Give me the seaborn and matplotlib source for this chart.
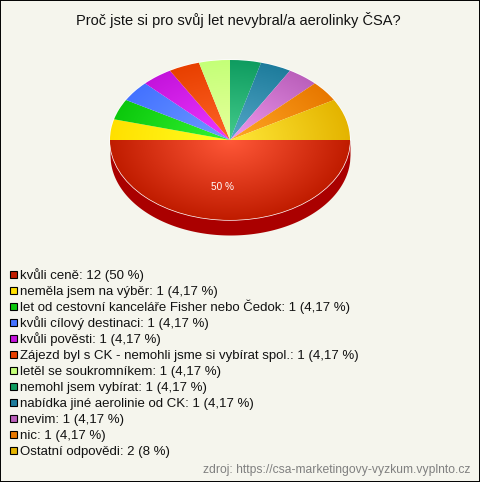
import numpy as np
import matplotlib
matplotlib.use("Agg")
import matplotlib.pyplot as plt
from matplotlib.patches import Rectangle
import seaborn as sns

title = "Proč jste si pro svůj let nevybral/a aerolinky ČSA?"
source = "zdroj: https://csa-marketingovy-vyzkum.vyplnto.cz"
answers = [
    "kvůli ceně",
    "neměla jsem na výběr",
    "let od cestovní kanceláře Fisher nebo Čedok",
    "kvůli cílový destinaci",
    "kvůli pověsti",
    "Zájezd byl s CK - nemohli jsme si vybírat spol.",
    "letěl se soukromníkem",
    "nemohl jsem vybírat",
    "nabídka jiné aerolinie od CK",
    "nevim",
    "nic",
    "Ostatní odpovědi",
]
counts = [12, 1, 1, 1, 1, 1, 1, 1, 1, 1, 1, 2]
percents = ["50", "4,17", "4,17", "4,17", "4,17", "4,17", "4,17", "4,17", "4,17", "4,17", "4,17", "8"]
inner_colors = ["#ff5838", "#ffff22", "#33f533", "#6f9bff", "#ee38ff", "#ff6428",
                "#e8ff9c", "#44cc8c", "#55a8c8", "#ee99ee", "#ffa824", "#ffe838"]
outer_colors = ["#c01c00", "#ffe000", "#0cc80c", "#4472ff", "#c414dc", "#e84000",
                "#c4ff78", "#0f9c60", "#1e7c9c", "#bb60bb", "#e87800", "#e4b400"]

W, H = 480, 482
BG = "#f5f5ed"
DEPTH = 15 / 80  # side of the pie, in units of the vertical radius

sns.set_theme(style="white")
plt.rcParams["font.family"] = ["Liberation Sans", "DejaVu Sans"]

fig = plt.figure(figsize=(W / 100, H / 100), dpi=100, facecolor=BG)
fig.add_artist(Rectangle((0, 0), 1, 1, transform=fig.transFigure, facecolor="none",
                         edgecolor="black", linewidth=1.4))

# axes box = the pie ellipse plus the side underneath it
ax = fig.add_axes([110 / W, 1 - 235 / H, 240 / W, 175 / H])
ax.set_facecolor("none")

# side of the pie
xs = np.linspace(-1, 1, 600)
ax.fill_between(xs, 0, -DEPTH - np.sqrt(1 - xs ** 2), color="#aa0000", linewidth=0)

wedges, _ = ax.pie(counts, colors=outer_colors, startangle=0, counterclock=False, radius=1)

# radial shading of each slice
grid = np.linspace(-1, 1, 500)
gx, gy = np.meshgrid(grid, grid)
radius = np.clip(np.hypot(gx, gy), 0, 1)
for wedge, c_in, c_out in zip(wedges, inner_colors, outer_colors):
    cmap = sns.blend_palette([c_in, c_out], 64, as_cmap=True)
    img = ax.imshow(radius, cmap=cmap, vmin=0, vmax=1, extent=(-1, 1, -1, 1),
                    origin="lower", aspect="auto", zorder=2, interpolation="bilinear")
    img.set_clip_path(wedge)

ax.set_aspect("auto")
ax.set_xlim(-1, 1)
ax.set_ylim(-1 - DEPTH, 1)
ax.axis("off")
ax.text(-0.06, -0.59, f"{percents[0]} %", color="white", fontsize=7.2,
        ha="center", va="center", zorder=3)

# legend rows on a fixed 16 px pitch (fig.legend spaces rows by text height)
for i, (a, n, p, c) in enumerate(zip(answers, counts, percents, outer_colors)):
    row_y = 274.5 + 16 * i
    fig.add_artist(Rectangle((9.5 / W, 1 - (row_y + 3.5) / H), 7 / W, 7 / H,
                             transform=fig.transFigure, facecolor=c,
                             edgecolor="black", linewidth=0.8))
    fig.text(20 / W, 1 - (row_y + 4) / H, f"{a}: {n} ({p} %)", fontsize=9.5,
             color="#111111", ha="left", va="baseline")

fig.text(238 / W, 1 - 20 / H, title, fontsize=10.5, color="#111111", ha="center", va="center")
fig.text(470 / W, 1 - 470 / H, source, fontsize=8.7, color="#808080", ha="right", va="center")

fig.savefig("out.png", dpi=100, facecolor=BG)
